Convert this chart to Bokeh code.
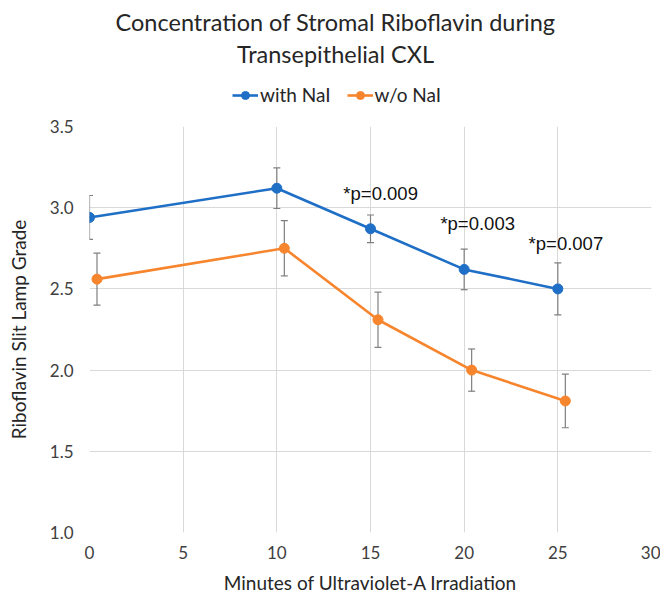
from bokeh.plotting import figure
from bokeh.models import (Range1d, FixedTicker, NumeralTickFormatter, Whisker, TeeHead,
                          ColumnDataSource, Legend, LegendItem, Label)
from bokeh.layouts import column
from bokeh.core.properties import value
from bokeh.embed import file_html
from bokeh.resources import INLINE

# ---- data ----
minutes_with = [0, 10, 15, 20, 25]
grade_with = [2.94, 3.12, 2.87, 2.62, 2.50]
err_with = [0.135, 0.125, 0.085, 0.125, 0.16]

minutes_wo = [0.4, 10.4, 15.4, 20.4, 25.4]
grade_wo = [2.56, 2.75, 2.31, 2.00, 1.81]
err_wo = [0.16, 0.17, 0.17, 0.13, 0.165]

p_labels = ["*p=0.009", "*p=0.003", "*p=0.007"]
p_label_x = [13.55, 18.73, 23.44]
p_label_y = [3.086, 2.90, 2.78]

x_ticks = [0, 5, 10, 15, 20, 25, 30]
y_ticks = [1.0, 1.5, 2.0, 2.5, 3.0, 3.5]

title_lines = ["Concentration of Stromal Riboflavin during", "Transepithelial CXL"]
series_names = ["with NaI", "w/o NaI"]
x_label = "Minutes of Ultraviolet-A Irradiation"
y_label = "Riboflavin Slit Lamp Grade"

BLUE = "#1F6FC6"
ORANGE = "#F7852E"
GRID = "#D9D9D9"
ERR = "#7F7F7F"
FONT = "Lato"
TXT = "#262626"

W = 660
HEAD_H = 110
LEFT = 89          # frame left edge (column layout aligns both frames)
NAN = float("nan")

# ---- header (title + legend) ----
head = figure(width=W, height=HEAD_H, output_backend="svg", toolbar_location=None,
              x_range=Range1d(0, 1), y_range=Range1d(0, 1),
              x_axis_location=None, y_axis_location=None,
              min_border=0, min_border_left=LEFT, min_border_right=9,
              min_border_top=0, min_border_bottom=0)
head.grid.visible = False
head.outline_line_color = None
head.border_fill_color = "white"

for txt, ty in zip(title_lines, [HEAD_H - 21, HEAD_H - 53]):
    head.add_layout(Label(x=335 - LEFT, y=ty, x_units="screen", y_units="screen", text=txt,
                          text_align="center", text_baseline="middle", text_font=FONT,
                          text_font_size="23.5px", text_color=TXT))

items = []
for col, name in ((BLUE, series_names[0]), (ORANGE, series_names[1])):
    lr = head.line(x=[NAN], y=[NAN], line_color=col, line_width=2.6)
    cr = head.scatter(x=[NAN], y=[NAN], size=10, fill_color=col, line_color=col)
    items.append(LegendItem(label=name, renderers=[lr, cr]))

legend = Legend(items=items, orientation="horizontal", location=(232 - LEFT, HEAD_H - 96 - 10),
                border_line_color=None, background_fill_alpha=0,
                padding=0, margin=0, spacing=16, glyph_width=26, glyph_height=20,
                label_standoff=2, label_text_font=FONT, label_text_font_size="19px",
                label_text_color=TXT)
head.add_layout(legend, "center")

# ---- main chart ----
p = figure(width=W, height=598 - HEAD_H, output_backend="svg", toolbar_location=None,
           x_range=Range1d(0, 30), y_range=Range1d(1.0, 3.5),
           min_border_left=LEFT, min_border_right=9, min_border_top=16, min_border_bottom=66)
p.outline_line_color = None
p.background_fill_color = "white"
p.border_fill_color = "white"

for ax in (p.xaxis[0], p.yaxis[0]):
    ax.axis_line_color = None
    ax.major_tick_line_color = None
    ax.minor_tick_line_color = None
    ax.major_tick_out = 0
    ax.major_tick_in = 0
    ax.major_label_text_font = FONT
    ax.major_label_text_font_size = "17px"
    ax.major_label_text_color = "#404040"
    ax.axis_label_text_font = FONT
    ax.axis_label_text_font_size = "19px"
    ax.axis_label_text_font_style = "normal"
    ax.axis_label_text_color = TXT

p.xaxis.ticker = FixedTicker(ticks=x_ticks)
p.yaxis.ticker = FixedTicker(ticks=y_ticks)
p.yaxis.formatter = NumeralTickFormatter(format="0.0")
p.xaxis.major_label_standoff = 13
p.yaxis.major_label_standoff = 16
p.xaxis.axis_label = x_label
p.yaxis.axis_label = y_label
p.xaxis.axis_label_standoff = 9
p.yaxis.axis_label_standoff = 17

p.xgrid.grid_line_color = GRID
p.ygrid.grid_line_color = GRID

src_with = ColumnDataSource(dict(x=minutes_with, y=grade_with,
                                 up=[g + e for g, e in zip(grade_with, err_with)],
                                 lo=[g - e for g, e in zip(grade_with, err_with)]))
src_wo = ColumnDataSource(dict(x=minutes_wo, y=grade_wo,
                               up=[g + e for g, e in zip(grade_wo, err_wo)],
                               lo=[g - e for g, e in zip(grade_wo, err_wo)]))

for src, col in ((src_with, BLUE), (src_wo, ORANGE)):
    w = Whisker(source=src, base="x", upper="up", lower="lo", line_color=ERR, line_width=1.2,
                upper_head=TeeHead(size=7, line_color=ERR, line_width=1.2),
                lower_head=TeeHead(size=7, line_color=ERR, line_width=1.2))
    p.add_layout(w)
    p.line("x", "y", source=src, line_color=col, line_width=2.6)
    p.scatter("x", "y", source=src, size=10, fill_color=col, line_color=col)

p.text(x=p_label_x, y=p_label_y, text=p_labels, text_font=value("Liberation Sans"),
       text_font_size="18.5px", text_align="left", text_baseline="middle", text_color="#111111")

layout = column(head, p, spacing=0)
open("out.html", "w").write(file_html(layout, INLINE))
